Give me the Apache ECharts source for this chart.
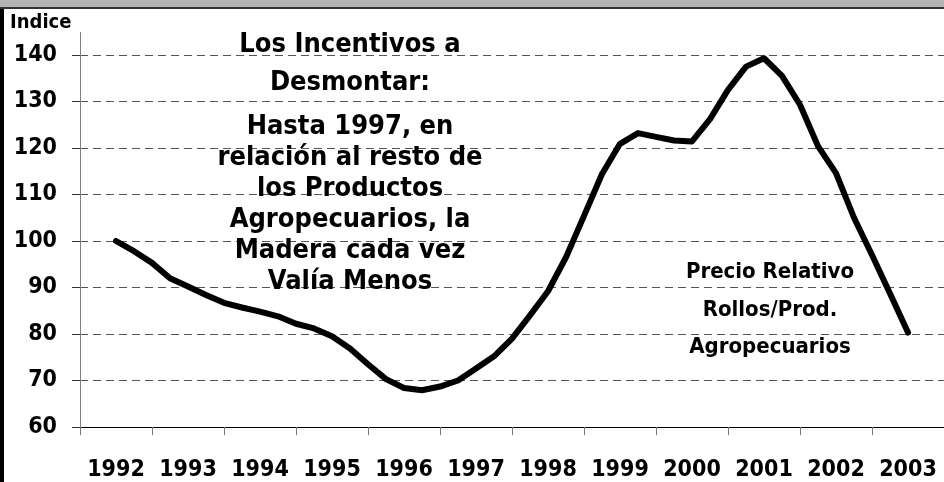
<!DOCTYPE html>
<html>
<head>
<meta charset="utf-8">
<script src="https://cdn.jsdelivr.net/npm/echarts@6/dist/echarts.min.js"></script>
<style>
  html, body { margin: 0; padding: 0; background: #fff; }
  #main { width: 944px; height: 482px; }
</style>
</head>
<body>
<div id="main"></div>
<script>
  var years = ['1992', '1993', '1994', '1995', '1996', '1997', '1998', '1999', '2000', '2001', '2002', '2003'];
  // trimestres (posicion en el eje temporal)
  var periods = [
    1992.5, 1992.75, 1993, 1993.25, 1993.5, 1993.75, 1994, 1994.25, 1994.5, 1994.75,
    1995, 1995.25, 1995.5, 1995.75, 1996, 1996.25, 1996.5, 1996.75, 1997, 1997.25,
    1997.5, 1997.75, 1998, 1998.25, 1998.5, 1998.75, 1999, 1999.25, 1999.5, 1999.75,
    2000, 2000.25, 2000.5, 2000.75, 2001, 2001.25, 2001.5, 2001.75, 2002, 2002.25,
    2002.5, 2002.75, 2003, 2003.25, 2003.5
  ];
  var precioRelativo = [
    100, 97.8, 95.3, 92, 90.2, 88.4, 86.7, 85.7, 84.8, 83.8,
    82.2, 81.2, 79.5, 76.9, 73.5, 70.3, 68.4, 67.9, 68.7, 70,
    72.6, 75.2, 79, 84, 89.2, 96.5, 105.4, 114.4, 120.9, 123.2,
    122.4, 121.6, 121.4, 126.2, 132.5, 137.5, 139.3, 135.5, 129.3, 120.4,
    114.6, 105, 97, 88.7, 80.3
  ];
  var yTicks = { min: 60, max: 140, step: 10 };

  var FONT = '"DejaVu Sans Condensed", "DejaVu Sans", sans-serif';

  var serie = [];
  for (var i = 0; i < periods.length; i++) {
    serie.push([periods[i], precioRelativo[i]]);
  }

  var myChart = echarts.init(document.getElementById('main'));
  var option = {
    backgroundColor: '#fff',
    animation: false,
    grid: { left: 80, right: -6, top: 55, bottom: 53 },
    xAxis: [{
      type: 'category',
      data: years,
      boundaryGap: true,
      axisLine: { lineStyle: { color: '#000', width: 1 } },
      axisTick: { show: true, interval: 0, length: 8, lineStyle: { color: '#777' } },
      axisLabel: {
        interval: 0, margin: 32, color: '#000', fontFamily: FONT, fontWeight: 'bold', fontSize: 23
      },
      splitLine: { show: false }
    }, {
      type: 'value',
      min: 1992,
      max: 2004,
      show: false
    }],
    yAxis: {
      type: 'value',
      min: yTicks.min,
      max: yTicks.max,
      interval: yTicks.step,
      axisLine: { show: true, lineStyle: { color: '#808080', width: 1 } },
      axisTick: { show: true, length: 8, lineStyle: { color: '#333' } },
      axisLabel: {
        margin: 23, color: '#000', fontFamily: FONT, fontWeight: 'bold', fontSize: 23
      },
      splitLine: {
        show: true,
        lineStyle: { color: '#555', width: 1, type: [8, 5] }
      }
    },
    series: [{
      type: 'line',
      xAxisIndex: 1,
      data: serie,
      showSymbol: false,
      smooth: false,
      lineStyle: { color: '#000', width: 6, join: 'round', cap: 'round' },
      z: 5
    }],
    graphic: [
      { type: 'rect', shape: { x: 0, y: 0, width: 944, height: 8 }, style: { fill: '#b3b3b3' } },
      { type: 'rect', shape: { x: 0, y: 7, width: 944, height: 2 }, style: { fill: '#333' } },
      { type: 'rect', shape: { x: 0, y: 9, width: 4, height: 473 }, style: { fill: '#000' } },
      // prolongacion del eje vertical sobre 140
      { type: 'line', shape: { x1: 80.5, y1: 32, x2: 80.5, y2: 55 }, style: { stroke: '#808080', lineWidth: 1 } },
      {
        type: 'text', x: 10, y: 13,
        style: { text: 'Indice', fill: '#000', font: 'bold 20px ' + FONT }
      },
      {
        type: 'text', x: 350, y: 26, z: 10,
        style: {
          text: 'Los Incentivos a\nDesmontar:', fill: '#000', font: 'bold 27px ' + FONT,
          align: 'center', verticalAlign: 'top', lineHeight: 38
        }
      },
      {
        type: 'text', x: 350, y: 111, z: 10,
        style: {
          text: 'Hasta 1997, en\nrelación al resto de\nlos Productos\nAgropecuarios, la\nMadera cada vez\nValía Menos',
          fill: '#000', font: 'bold 27px ' + FONT,
          align: 'center', verticalAlign: 'top', lineHeight: 31
        }
      },
      {
        type: 'text', x: 770, y: 254, z: 10,
        style: {
          text: 'Precio Relativo\nRollos/Prod.\nAgropecuarios', fill: '#000', font: 'bold 22px ' + FONT,
          align: 'center', verticalAlign: 'top', lineHeight: 37.5
        }
      }
    ]
  };
  myChart.setOption(option);
</script>
</body>
</html>
